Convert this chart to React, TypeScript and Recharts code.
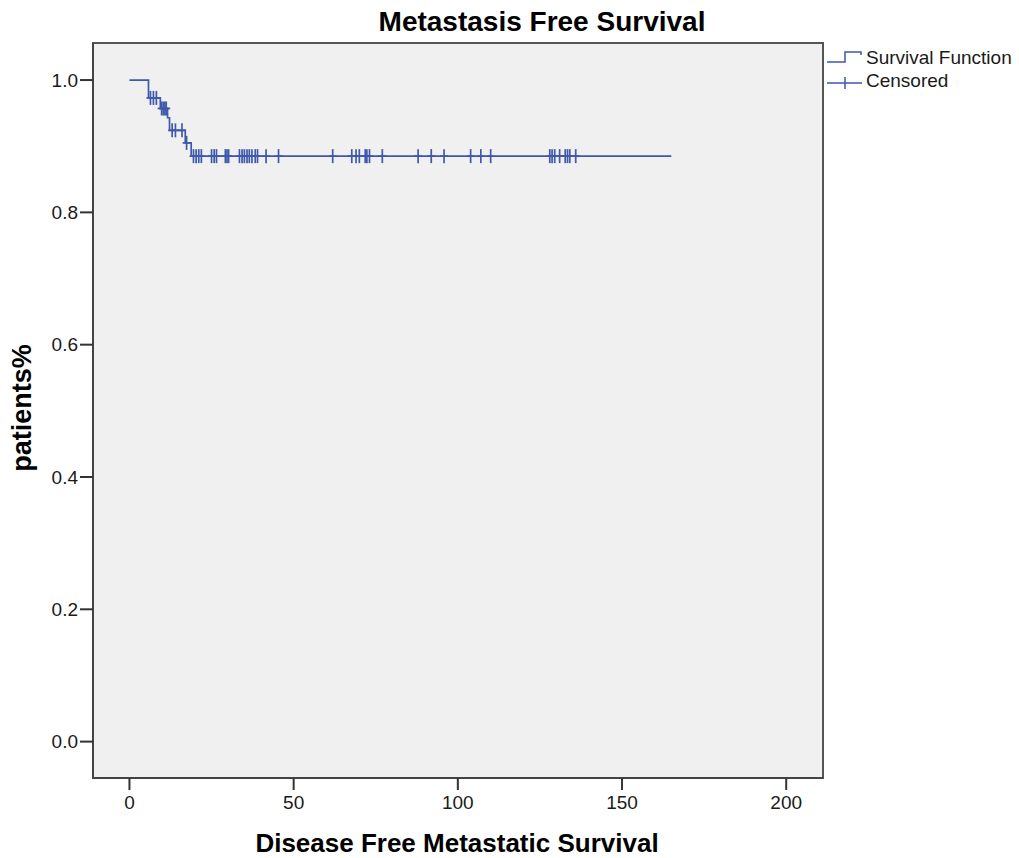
import React from 'react'
import { ComposedChart, Line, ReferenceArea, Scatter, XAxis, YAxis } from 'recharts'

// Kaplan-Meier step points: time and cumulative survival
const stepTimes = [0, 5.8, 9.4, 11.6, 12.2, 17.0, 18.8, 165]
const stepSurvival = [1.0, 0.973, 0.957, 0.943, 0.924, 0.905, 0.885, 0.885]

// censored observations (time, survival at that time)
const censorTimes = [
  6.4, 7.3, 8.2,
  9.8, 10.3, 10.8, 11.2,
  13.0, 14.0, 16.0,
  17.4,
  19.5, 20.3, 21.1, 21.9, 25.0, 25.8, 26.5, 29.2, 29.7, 30.2, 33.5, 34.3, 35.0, 35.8,
  36.5, 37.3, 38.3, 39.0, 41.6, 45.4, 61.9, 67.7, 69.0, 70.0, 71.8, 72.3, 73.1, 77.0,
  87.9, 91.9, 95.8, 103.9, 107.0, 110.0, 128.0, 128.7, 129.5, 131.0, 132.7, 133.4,
  134.1, 135.9, 163.9,
]
const censorSurvival = [
  0.973, 0.973, 0.973,
  0.957, 0.957, 0.957, 0.957,
  0.924, 0.924, 0.924,
  0.905,
  0.885, 0.885, 0.885, 0.885, 0.885, 0.885, 0.885, 0.885, 0.885, 0.885, 0.885, 0.885,
  0.885, 0.885, 0.885, 0.885, 0.885, 0.885, 0.885, 0.885, 0.885, 0.885, 0.885, 0.885,
  0.885, 0.885, 0.885, 0.885, 0.885, 0.885, 0.885, 0.885, 0.885, 0.885, 0.885, 0.885,
  0.885, 0.885, 0.885, 0.885, 0.885, 0.885,
]

const xTicks = [0, 50, 100, 150, 200]
const yTicks = [0, 0.2, 0.4, 0.6, 0.8, 1.0]

const X_DOMAIN: [number, number] = [-11.1, 211.2]
const Y_DOMAIN: [number, number] = [-0.055, 1.056]

const LINE_COLOR = '#3E58AC'
const FONT = '"Liberation Sans", Arial, sans-serif'

const curve = stepTimes.map((t, i) => ({ t, s: stepSurvival[i] }))
const censored = censorTimes.map((t, i) => ({ t, s: censorSurvival[i] }))

const CensorMark = (props: any) => {
  const { cx, cy } = props
  if (cx == null || cy == null) return null
  return (
    <g stroke={LINE_COLOR} strokeWidth={1.7}>
      <line x1={cx} y1={cy - 7} x2={cx} y2={cy + 7} />
      <line x1={cx - 4} y1={cy} x2={cx + 4} y2={cy} />
    </g>
  )
}

const tickStyle = { fontFamily: FONT, fontSize: 19, fill: '#1a1a1a' }

export default function App() {
  return (
    <div style={{ position: 'absolute', left: 0, top: 0, width: 1019, height: 858, background: '#fff' }}>
      <div
        style={{
          position: 'absolute', left: 292, top: 8, width: 500, textAlign: 'center',
          fontFamily: FONT, fontWeight: 'bold', fontSize: 28, lineHeight: '28px', color: '#000',
        }}
      >
        Metastasis Free Survival
      </div>

      <ComposedChart
        width={1019}
        height={858}
        margin={{ top: 43, right: 196, bottom: 50, left: 33 }}
      >
        <XAxis
          dataKey="t"
          type="number"
          domain={X_DOMAIN}
          ticks={xTicks}
          allowDataOverflow
          height={30}
          tickSize={12}
          tickMargin={6}
          tick={tickStyle}
          axisLine={{ stroke: '#444', strokeWidth: 2 }}
          tickLine={{ stroke: '#333', strokeWidth: 2 }}
        />
        <YAxis
          dataKey="s"
          type="number"
          domain={Y_DOMAIN}
          ticks={yTicks}
          allowDataOverflow
          width={60}
          tickSize={13}
          tickMargin={2}
          tick={tickStyle}
          tickFormatter={(v: number) => v.toFixed(1)}
          axisLine={{ stroke: '#444', strokeWidth: 2 }}
          tickLine={{ stroke: '#333', strokeWidth: 2 }}
        />
        <ReferenceArea
          x1={X_DOMAIN[0]}
          x2={X_DOMAIN[1]}
          y1={Y_DOMAIN[0]}
          y2={Y_DOMAIN[1]}
          fill="#F0F0F0"
          fillOpacity={1}
          stroke="#555"
          strokeWidth={2}
        />
        <Line
          data={curve}
          dataKey="s"
          type="stepAfter"
          stroke={LINE_COLOR}
          strokeWidth={1.7}
          dot={false}
          isAnimationActive={false}
        />
        <Scatter
          data={censored}
          dataKey="s"
          shape={CensorMark}
          isAnimationActive={false}
        />
      </ComposedChart>

      {/* legend */}
      <div style={{ position: 'absolute', left: 826, top: 46, fontFamily: FONT, fontSize: 19, color: '#1a1a1a' }}>
        <div style={{ display: 'flex', alignItems: 'center', height: 23 }}>
          <svg width={40} height={23}>
            <path d="M1 16 H19 V6 H35 V9" fill="none" stroke={LINE_COLOR} strokeWidth={1.5} />
          </svg>
          <span>Survival Function</span>
        </div>
        <div style={{ display: 'flex', alignItems: 'center', height: 23 }}>
          <svg width={40} height={23}>
            <path d="M1 14 H36 M19 8 V20" fill="none" stroke={LINE_COLOR} strokeWidth={1.5} />
          </svg>
          <span>Censored</span>
        </div>
      </div>

      <div
        style={{
          position: 'absolute', left: 207, top: 833, width: 500, textAlign: 'center',
          fontFamily: FONT, fontWeight: 'bold', fontSize: 26, lineHeight: '20px', color: '#000',
        }}
      >
        Disease Free Metastatic Survival
      </div>
      <div
        style={{
          position: 'absolute', left: 22 - 100, top: 408 - 15, width: 200, height: 30,
          lineHeight: '30px', textAlign: 'center', transform: 'rotate(-90deg)',
          fontFamily: FONT, fontWeight: 'bold', fontSize: 27, color: '#000',
        }}
      >
        patients%
      </div>
    </div>
  )
}
